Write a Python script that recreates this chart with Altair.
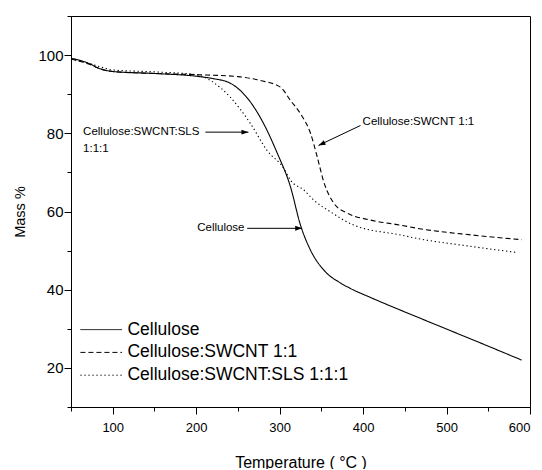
import math
import altair as alt
import pandas as pd

series_names = ["Cellulose", "Cellulose:SWCNT 1:1", "Cellulose:SWCNT:SLS 1:1:1"]

cel_T = [50, 70, 85, 100, 150, 200, 220, 241, 255, 265, 281, 297, 313, 325, 337, 353, 373, 385, 409, 465, 505, 545, 590]
cel_M = [99.2, 98, 96.5, 95.8, 95.3, 94.6, 94, 92.8, 90.5, 88, 82.4, 75, 66.3, 56.5, 50.1, 45, 41.7, 40.3, 38, 33, 29.5, 26, 22]

swc_T = [50, 70, 85, 100, 150, 200, 250, 277, 301, 313, 325, 337, 345, 353, 365, 381, 409, 445, 465, 530, 590]
swc_M = [99, 97.8, 96.5, 95.8, 95.3, 95, 94.5, 93.5, 91.8, 88.4, 85, 80, 74, 67.5, 62.1, 59.6, 57.8, 56.5, 55.7, 54, 52.8]

sls_T = [50, 70, 85, 100, 150, 200, 217, 241, 265, 285, 305, 313, 329, 341, 361, 389, 445, 465, 525, 585]
sls_M = [99, 98, 97, 96.2, 95.7, 95, 93.5, 89.2, 82.5, 75.6, 71, 68, 65.5, 62.9, 59.9, 56.5, 54, 53.1, 51.2, 49.5]

# annotations (text anchored at left, in data coordinates)
ann_text = ["Cellulose:SWCNT:SLS", "1:1:1", "Cellulose:SWCNT 1:1", "Cellulose"]
ann_T = [64.5, 64.5, 399.4, 201.2]
ann_M = [80.3, 76.1, 82.9, 55.7]

# arrows: start (T, M) -> tip (T, M)
arr_T0 = [211, 396.9, 261.1]
arr_M0 = [80.3, 82.0, 55.7]
arr_T1 = [262.6, 346.6, 327]
arr_M1 = [80.3, 76.9, 55.7]

x_major = [100, 200, 300, 400, 500, 600]
x_minor = [50, 150, 250, 350, 450, 550]
y_major = [20, 40, 60, 80, 100]
y_minor = [10, 30, 50, 70, 90, 110]

# ---- layout constants ----
W, H = 459, 391
XD = [50, 600]
YD = [10, 110]
FONT = "Liberation Sans"
LEG_TOP = 313.6      # px from plot top, first legend row centre
LEG_STEP = 22.8      # px between legend rows
LEG_X0, LEG_X1, LEG_TX = 9.4, 51.0, 56.4  # px from plot left

px = W / (XD[1] - XD[0])
py = H / (YD[1] - YD[0])

rows = []
for name, T, M in [(series_names[0], cel_T, cel_M), (series_names[1], swc_T, swc_M), (series_names[2], sls_T, sls_M)]:
    for t, m in zip(T, M):
        rows.append({"series": name, "T": t, "M": m})
df = pd.DataFrame(rows)

ann_df = pd.DataFrame({"text": ann_text, "T": ann_T, "M": ann_M})

angles = [math.degrees(math.atan2(-(m1 - m0) * py, (t1 - t0) * px)) % 360
          for t0, m0, t1, m1 in zip(arr_T0, arr_M0, arr_T1, arr_M1)]
arr_df = pd.DataFrame({"T0": arr_T0, "M0": arr_M0, "T1": arr_T1, "M1": arr_M1, "angle": angles})

leg_df = pd.DataFrame({
    "series": series_names,
    "ly": [YD[1] - (LEG_TOP + i * LEG_STEP) / py for i in range(len(series_names))],
    "lx0": [XD[0] + LEG_X0 / px] * len(series_names),
    "lx1": [XD[0] + LEG_X1 / px] * len(series_names),
    "ltx": [XD[0] + LEG_TX / px] * len(series_names),
})

xscale = alt.Scale(domain=XD, nice=False, zero=False)
yscale = alt.Scale(domain=YD, nice=False, zero=False)
dash_scale = alt.Scale(domain=series_names, range=[[1, 0], [5, 3], [1.3, 2.7]])

x_main = alt.X("T:Q", scale=xscale, title="Temperature ( °C )",
               axis=alt.Axis(values=x_major, orient="bottom", tickSize=7, labelFontSize=13,
                             labelPadding=7, titleFontSize=16, titlePadding=20,
                             titleFont=FONT, labelFont=FONT))
y_main = alt.Y("M:Q", scale=yscale, title="Mass %",
               axis=alt.Axis(values=y_major, orient="left", tickSize=7, labelFontSize=15,
                             labelPadding=1, titleFontSize=14.5, titlePadding=10,
                             titleFont=FONT, labelFont=FONT))

lines = alt.Chart(df).mark_line(strokeWidth=1.1, color="black", interpolate="monotone").encode(
    x=x_main,
    y=y_main,
    strokeDash=alt.StrokeDash("series:N", scale=dash_scale, legend=None),
    detail="series:N",
)

minor = alt.Chart(df).mark_line(opacity=0).encode(
    x=alt.X("T:Q", scale=xscale, title=None,
            axis=alt.Axis(values=x_minor, orient="bottom", tickSize=4, labels=False, domain=False)),
    y=alt.Y("M:Q", scale=yscale, title=None,
            axis=alt.Axis(values=y_minor, orient="left", tickSize=4, labels=False, domain=False)),
)

texts = alt.Chart(ann_df).mark_text(align="left", baseline="middle", fontSize=11.5,
                                    font=FONT, color="black").encode(
    x=alt.X("T:Q", scale=xscale, axis=None), y=alt.Y("M:Q", scale=yscale, axis=None), text="text:N")

arrow_lines = alt.Chart(arr_df).mark_rule(color="black", strokeWidth=1).encode(
    x=alt.X("T0:Q", scale=xscale, axis=None), y=alt.Y("M0:Q", scale=yscale, axis=None),
    x2="T1:Q", y2="M1:Q")

arrow_heads = alt.Chart(arr_df).mark_point(
    shape="M0,0L-2,-0.7L-2,0.7Z", size=49, filled=True, color="black", opacity=1).encode(
    x=alt.X("T1:Q", scale=xscale, axis=None), y=alt.Y("M1:Q", scale=yscale, axis=None),
    angle=alt.Angle("angle:Q", scale=None))

leg_lines = alt.Chart(leg_df).mark_rule(color="black", strokeWidth=1).encode(
    x=alt.X("lx0:Q", scale=xscale, axis=None), x2="lx1:Q",
    y=alt.Y("ly:Q", scale=yscale, axis=None),
    strokeDash=alt.StrokeDash("series:N", scale=dash_scale, legend=None),
)

leg_text = alt.Chart(leg_df).mark_text(align="left", baseline="middle", fontSize=17.5,
                                       font=FONT, color="black").encode(
    x=alt.X("ltx:Q", scale=xscale, axis=None),
    y=alt.Y("ly:Q", scale=yscale, axis=None),
    text="series:N",
)

chart = alt.layer(lines, minor, texts, arrow_lines, arrow_heads, leg_lines, leg_text).resolve_axis(
    x="independent", y="independent"
).properties(
    width=W, height=H,
    padding={"left": 63, "top": 8, "right": 4, "bottom": 62},
    autosize=alt.AutoSizeParams(type="none"),
).configure_view(stroke="black", strokeWidth=1).configure_axis(
    grid=False, domainColor="black", tickColor="black", labelColor="black",
    titleColor="black", titleFontWeight="normal", domainWidth=1, tickWidth=1,
)

chart.save("out.html", embed_options={"renderer": "svg", "actions": False})
